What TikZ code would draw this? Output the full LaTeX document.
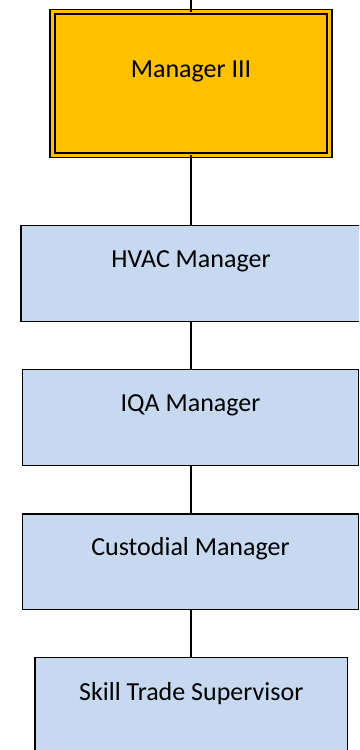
\documentclass[tikz,border=0pt]{standalone}
\usepackage{fontspec}
\setmainfont{Carlito}
\usetikzlibrary{positioning}
\definecolor{chartgold}{RGB}{255, 192, 0}
\definecolor{chartblue}{RGB}{198, 217, 240}
\tikzstyle{post} = [
  draw=black,
  line width=1.5pt,
  fill=chartblue,
  minimum height=96pt,
  inner sep=0pt,
  outer sep=0pt,
  anchor=north,
]
\tikzstyle{head} = [
  draw=black,
  line width=1.4pt,
  double=chartgold,
  double distance=3.3pt,
  fill=chartgold,
  minimum width=277pt,
  minimum height=143.6pt,
  inner sep=0pt,
  outer sep=0pt,
  anchor=north,
]
\tikzstyle{title} = [
  font=\fontsize{26}{30}\selectfont,
  inner sep=0pt,
  anchor=base,
]
\tikzstyle{link} = [draw=black, line width=1.5pt]

\begin{document}
\begin{tikzpicture}[x=1pt, y=-1pt]
  \useasboundingbox (0,0) rectangle (359,750);
  \clip (0,0) rectangle (359,750);

  \coordinate (top) at (191,0);

  % Boxes
  \node[head] (head) at (191,11.7) {};
  \node[post, minimum width=340pt] (hvac) at (191,225.7) {};
  \node[post, minimum width=335.6pt] (iqa) at (190.5,369.7) {};
  \node[post, minimum width=335.6pt, minimum height=95.3pt] (custodial) at (190.5,514) {};
  \node[post, minimum width=312.7pt, minimum height=120pt] (skilltrade) at (191.3,657.7) {};

  % Links
  \draw[link] (top) -- (head.north);
  \draw[link] (head.south) -- (hvac.north -| head.south);
  \draw[link] (hvac.south -| head.south) -- (iqa.north -| head.south);
  \draw[link] (iqa.south -| head.south) -- (custodial.north -| head.south);
  \draw[link] (custodial.south -| head.south) -- (skilltrade.north -| head.south);

  % Labels
  \node[title, yshift=-65.6pt] (head-label) at (head.north) {Manager III};
  \node[title, yshift=-42pt] (hvac-label) at (191,225.7) {HVAC Manager};
  \node[title, yshift=-42pt] (iqa-label) at (iqa.north) {IQA Manager};
  \node[title, yshift=-41.7pt] (custodial-label) at (custodial.north) {Custodial Manager};
  \node[title, yshift=-43pt] (skilltrade-label) at (skilltrade.north) {Skill Trade Supervisor};
\end{tikzpicture}
\end{document}
